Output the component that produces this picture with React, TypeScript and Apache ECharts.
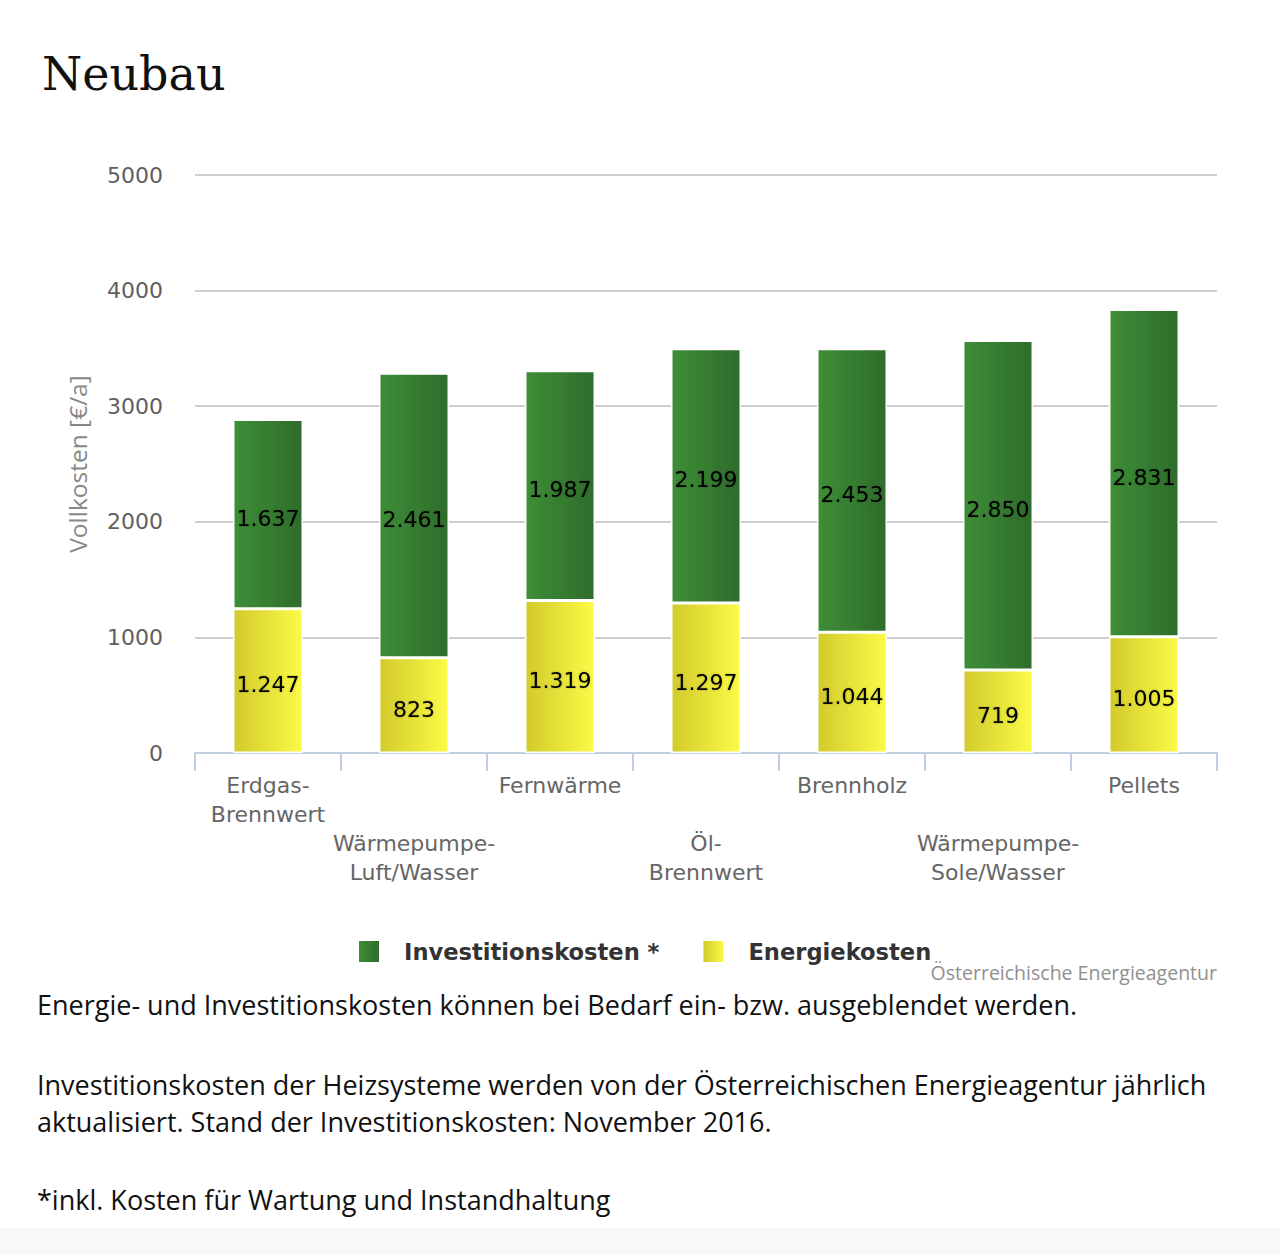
import React, { useEffect, useRef } from "react";
import * as echarts from "echarts";

const categories = [
  "Erdgas-\nBrennwert",
  "Wärmepumpe-\nLuft/Wasser",
  "Fernwärme",
  "Öl-\nBrennwert",
  "Brennholz",
  "Wärmepumpe-\nSole/Wasser",
  "Pellets",
];
const energiekosten = [1247, 823, 1319, 1297, 1044, 719, 1005];
const investitionskosten = [1637, 2461, 1987, 2199, 2453, 2850, 2831];
const yTicks = { min: 0, max: 5000, interval: 1000 };

const titleText = "Neubau";
const yAxisTitle = "Vollkosten [€/a]";
const seriesNames = ["Investitionskosten *", "Energiekosten"];
const creditText = "Österreichische Energieagentur";
const notes = [
  "Energie- und Investitionskosten können bei Bedarf ein- bzw. ausgeblendet werden.",
  "Investitionskosten der Heizsysteme werden von der Österreichischen Energieagentur jährlich",
  "aktualisiert. Stand der Investitionskosten: November 2016.",
  "*inkl. Kosten für Wartung und Instandhaltung",
];

const fmt = (v: number) => {
  const s = String(Math.round(v));
  return s.replace(/\B(?=(\d{3})+(?!\d))/g, ".");
};

export default function App() {
  const ref = useRef<HTMLDivElement>(null);
  useEffect(() => {
    if (!ref.current) return;
    const chart = echarts.init(ref.current, undefined, { renderer: "svg" });
    const green = new echarts.graphic.LinearGradient(0, 0, 1, 0, [
      { offset: 0, color: "#3e8e37" },
      { offset: 1, color: "#2e6c2b" },
    ]);
    const yellow = new echarts.graphic.LinearGradient(0, 0, 1, 0, [
      { offset: 0, color: "#d2ca2c" },
      { offset: 1, color: "#fbfb46" },
    ]);
    const labelCommon = {
      show: true,
      position: "inside" as const,
      color: "#000",
      fontFamily: "DejaVu Sans",
      fontSize: 22,
      offset: [0, 4],
      textShadowColor: "rgba(0,0,0,0.25)",
      textShadowBlur: 2,
      formatter: (p: any) => fmt(p.value),
    };
    const noteFont = '"Open Sans", sans-serif';
    chart.setOption({
      animation: false,
      backgroundColor: "#ffffff",
      title: {
        text: titleText,
        left: 37,
        top: 46,
        textStyle: {
          fontFamily: "DejaVu Serif",
          fontWeight: "normal",
          fontSize: 46,
          color: "#111",
        },
      },
      grid: { left: 195, right: 63, top: 175, bottom: 501, containLabel: false },
      legend: {
        data: seriesNames,
        left: 359,
        top: 940,
        padding: 0,
        itemWidth: 20,
        itemHeight: 21,
        itemGap: 44,
        icon: "rect",
        itemStyle: { borderWidth: 0 },
        textStyle: {
          fontFamily: "DejaVu Sans",
          fontWeight: "bold",
          fontSize: 22.6,
          color: "#333",
          padding: [0, 0, 0, 20],
        },
      },
      xAxis: {
        type: "category",
        data: categories,
        axisLine: { lineStyle: { color: "#c0d0e0", width: 2 } },
        axisTick: { show: true, length: 18, lineStyle: { color: "#c0d0e0", width: 2 } },
        axisLabel: {
          interval: 0,
          margin: 18,
          color: "#666",
          fontFamily: "DejaVu Sans",
          fontSize: 22,
          lineHeight: 29,
          formatter: (v: string, i: number) => (i % 2 === 1 ? "\n\n" + v : v),
        },
      },
      yAxis: {
        type: "value",
        min: yTicks.min,
        max: yTicks.max,
        interval: yTicks.interval,
        name: yAxisTitle,
        nameLocation: "middle",
        nameGap: 105,
        nameTextStyle: {
          fontFamily: noteFont,
          fontSize: 24.5,
          color: "#888",
        },
        axisLine: { show: false },
        axisTick: { show: false },
        splitLine: { lineStyle: { color: "#cfcfcf", width: 2 } },
        axisLabel: {
          margin: 32,
          color: "#606060",
          fontFamily: "DejaVu Sans",
          fontSize: 22,
          formatter: (v: number) => String(v),
        },
      },
      series: [
        {
          name: seriesNames[1],
          type: "bar",
          stack: "total",
          barWidth: 70,
          data: energiekosten,
          itemStyle: { color: yellow, borderColor: "#fff", borderWidth: 1.5 },
          label: labelCommon,
        },
        {
          name: seriesNames[0],
          type: "bar",
          stack: "total",
          barWidth: 70,
          data: investitionskosten,
          itemStyle: { color: green, borderColor: "#fff", borderWidth: 1.5 },
          label: labelCommon,
        },
      ],
      graphic: [
        {
          type: "rect",
          left: 0,
          top: 1228,
          shape: { width: 1280, height: 26 },
          style: { fill: "#f8f8f8" },
          silent: true,
        },
        {
          type: "text",
          x: 1217,
          y: 972,
          style: {
            text: creditText,
            fill: "#909090",
            font: '19.5px "Open Sans", sans-serif',
            textAlign: "right",
            textVerticalAlign: "middle",
          },
        },
        ...notes.map((t, i) => ({
          type: "text",
          x: 37,
          y: [1004, 1084, 1121, 1199][i],
          style: {
            text: t,
            fill: "#111",
            font: `27px ${noteFont}`,
            textAlign: "left",
            textVerticalAlign: "middle",
          },
        })),
      ],
    });
    return () => chart.dispose();
  }, []);
  return (
    <div
      ref={ref}
      style={{ position: "absolute", left: 0, top: 0, width: 1280, height: 1254 }}
    />
  );
}
